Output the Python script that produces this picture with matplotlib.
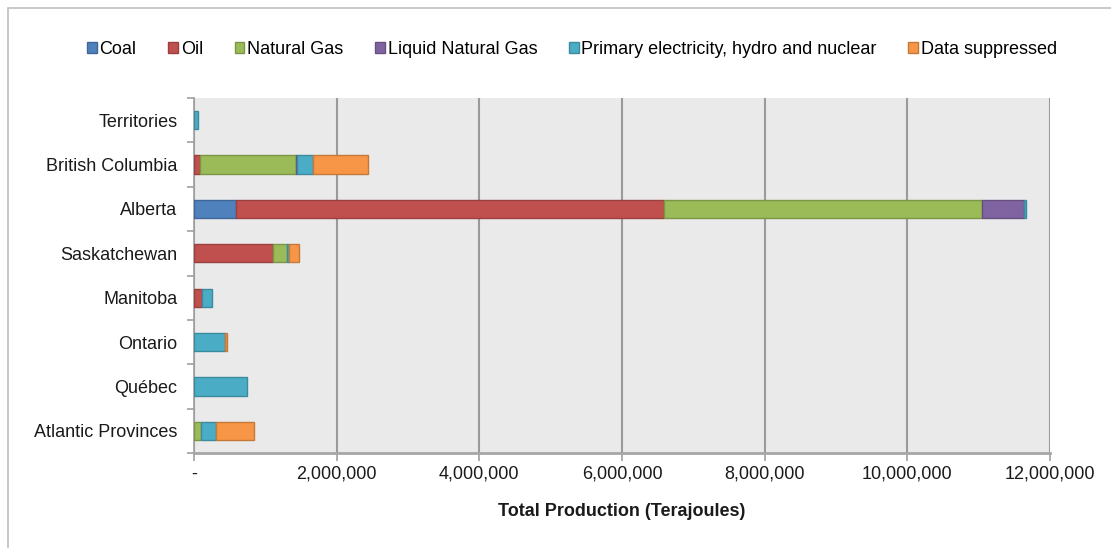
import matplotlib.pyplot as plt
import numpy as np
from matplotlib.patches import Patch, Rectangle
from matplotlib.ticker import FuncFormatter, FixedLocator

plt.rcParams["font.family"] = ["Liberation Sans", "DejaVu Sans"]

# Regions, bottom to top of the chart
regions = ["Atlantic Provinces", "Québec", "Ontario", "Manitoba",
           "Saskatchewan", "Alberta", "British Columbia", "Territories"]

# Production by source (terajoules)
coal = [0, 0, 0, 0, 0, 584000, 0, 0]
oil = [0, 0, 0, 108000, 1107000, 6008000, 90000, 0]
natural_gas = [103000, 0, 0, 0, 201000, 4458000, 1340000, 0]
liquid_gas = [0, 0, 0, 0, 0, 589000, 20000, 0]
primary_elec = [201000, 738000, 430000, 149000, 20000, 23000, 222000, 50000]
suppressed = [537000, 0, 28000, 0, 148000, 0, 771000, 0]

series = [
    ("Coal", coal, "#4F81BD"),
    ("Oil", oil, "#C0504D"),
    ("Natural Gas", natural_gas, "#9BBB59"),
    ("Liquid Natural Gas", liquid_gas, "#8064A2"),
    ("Primary electricity, hydro and nuclear", primary_elec, "#4BACC6"),
    ("Data suppressed", suppressed, "#F79646"),
]


def darker(hex_color, f=0.8):
    r, g, b = (int(hex_color[i:i + 2], 16) / 255 for i in (1, 3, 5))
    return (r * f, g * f, b * f)


fig = plt.figure(figsize=(11.11, 5.48), dpi=100)
ax = fig.add_axes([194 / 1111, 95 / 548, 856 / 1111, 355 / 548])
ax.set_facecolor("#EAEAEA")

# outer chart frame
fig.patches.append(Rectangle((8 / 1111, -0.1), 1.2, (540 / 548) + 0.1,
                             transform=fig.transFigure, fill=False,
                             edgecolor="#BFBFBF", linewidth=1.2))

y = np.arange(len(regions))
left = np.zeros(len(regions))
handles = []
for name, vals, color in series:
    vals = np.array(vals, dtype=float)
    nz = vals > 0
    ax.barh(y[nz], vals[nz], left=left[nz], height=0.41, color=color,
            edgecolor=darker(color), linewidth=1.0, zorder=3)
    left += vals
    handles.append(Patch(facecolor=color, edgecolor=darker(color),
                         linewidth=1.0, label=name))

ax.set_xlim(0, 12_000_000)
ax.set_ylim(-0.5, len(regions) - 0.5)
ax.xaxis.set_major_locator(FixedLocator(np.arange(0, 12_000_001, 2_000_000)))
ax.xaxis.set_major_formatter(
    FuncFormatter(lambda v, _: "-" if v == 0 else f"{v:,.0f}"))
ax.grid(axis="x", color="#9A9A9A", linewidth=1.5, zorder=1)
ax.set_axisbelow(True)

ax.set_yticks(y)
ax.set_yticklabels(regions)
ax.yaxis.set_minor_locator(FixedLocator(np.arange(-0.5, len(regions), 1.0)))
ax.tick_params(axis="y", which="major", length=0, pad=12,
               labelsize=13, labelcolor="#1A1A1A")
ax.tick_params(axis="y", which="minor", length=5, width=1.2, color="#A0A0A0")
ax.tick_params(axis="x", which="major", length=6, width=1.2, color="#A0A0A0",
               labelsize=13, labelcolor="#1A1A1A", pad=3)

for side in ("top", "right"):
    ax.spines[side].set_visible(False)
ax.spines["left"].set_color("#A0A0A0")
ax.spines["left"].set_linewidth(1.2)
ax.spines["bottom"].set_color("#A6A6A6")
ax.spines["bottom"].set_linewidth(2.0)

ax.set_xlabel("Total Production (Terajoules)", fontsize=13,
              fontweight="bold", color="#1A1A1A", labelpad=15)

fig.legend(handles=handles, loc="center", bbox_to_anchor=(572 / 1111, 1 - 49 / 548),
           ncol=6, frameon=False, fontsize=13, handlelength=0.55,
           handleheight=0.55, handletextpad=0.15, columnspacing=1.75)

fig.savefig("out.png", dpi=100)
